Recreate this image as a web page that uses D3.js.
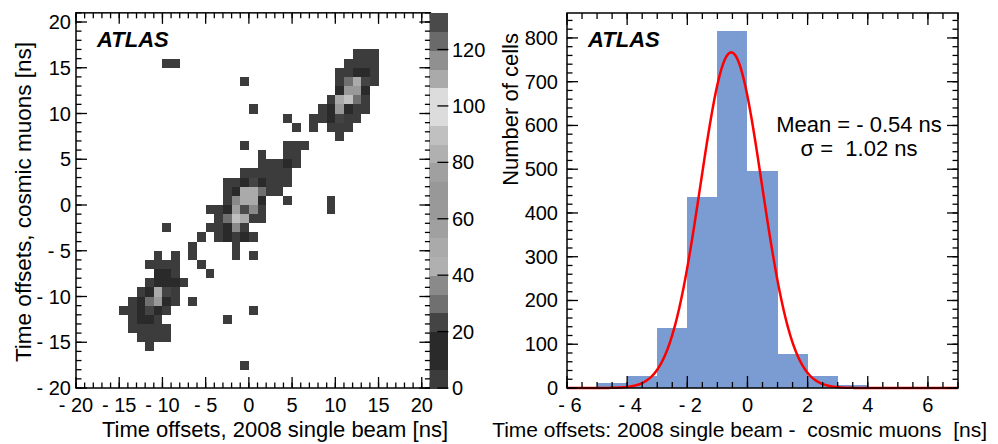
<!DOCTYPE html>
<html>
<head>
<meta charset="utf-8">
<script src="https://cdn.jsdelivr.net/npm/d3@7"></script>
<style>
  body { margin: 0; background: #fff; }
  text { font-family: "Liberation Sans", Arial, sans-serif; fill: #000; }
</style>
</head>
<body>
<svg width="998" height="444"></svg>
<script>
// ---------- data: 2D map (x bin low edge, y bin low edge, entries), 1 ns bins
const mapCells = [
  [-10, 15, 3], [-9, 15, 3],
  [12, 16, 3], [13, 16, 3], [14, 16, 3],
  [11, 15, 3], [12, 15, 3], [13, 15, 3], [14, 15, 3],
  [10, 14, 3], [11, 14, 3], [12, 14, 10], [13, 14, 10], [14, 14, 3],
  [-1, 13, 3], [10, 13, 3], [11, 13, 30], [12, 13, 50], [13, 13, 22], [14, 13, 3],
  [10, 12, 10], [11, 12, 62], [12, 12, 62], [13, 12, 10],
  [9, 11, 3], [10, 11, 50], [11, 11, 90], [12, 11, 30], [13, 11, 3],
  [0, 10, 3], [8, 10, 3], [9, 10, 10], [10, 10, 62], [11, 10, 10], [12, 10, 3], [13, 10, 3],
  [4, 9, 3], [7, 9, 3], [8, 9, 3], [9, 9, 10], [10, 9, 22], [11, 9, 3], [12, 9, 3],
  [5, 8, 3], [7, 8, 3], [9, 8, 3], [10, 8, 3], [11, 8, 3],
  [10, 7, 3],
  [-1, 6, 3], [4, 6, 3], [5, 6, 3], [6, 6, 3],
  [1, 5, 3], [4, 5, 3], [5, 5, 3],
  [1, 4, 3], [2, 4, 3], [3, 4, 3], [4, 4, 10], [5, 4, 3],
  [-1, 3, 3], [0, 3, 3], [1, 3, 3], [2, 3, 3], [3, 3, 3], [4, 3, 3],
  [-3, 2, 3], [-2, 2, 3], [-1, 2, 10], [0, 2, 22], [1, 2, 10], [2, 2, 3], [3, 2, 3], [4, 2, 3],
  [-3, 1, 3], [-2, 1, 10], [-1, 1, 50], [0, 1, 50], [1, 1, 30], [2, 1, 3], [3, 1, 3],
  [-3, 0, 3], [-2, 0, 37], [-1, 0, 50], [0, 0, 50], [1, 0, 10], [4, 0, 3], [9, 0, 3],
  [-5, -1, 3], [-4, -1, 3], [-3, -1, 10], [-2, -1, 56], [-1, -1, 130], [0, -1, 37], [1, -1, 3], [9, -1, 3],
  [-4, -2, 3], [-3, -2, 30], [-2, -2, 90], [-1, -2, 50], [0, -2, 3], [1, -2, 3],
  [-10, -3, 3], [-5, -3, 3], [-4, -3, 3], [-3, -3, 10], [-2, -3, 37], [-1, -3, 3],
  [-6, -4, 3], [-4, -4, 3], [-3, -4, 10], [-2, -4, 3], [-1, -4, 10], [0, -4, 3],
  [-7, -5, 3], [-2, -5, 3],
  [-11, -6, 3], [-9, -6, 3], [-7, -6, 3], [-2, -6, 3], [0, -6, 3],
  [-12, -7, 3], [-11, -7, 3], [-10, -7, 3], [-9, -7, 3], [-6, -7, 3],
  [-11, -8, 10], [-10, -8, 10], [-9, -8, 3], [-5, -8, 3],
  [-12, -9, 3], [-11, -9, 10], [-10, -9, 10], [-9, -9, 10], [-8, -9, 3],
  [-13, -10, 3], [-12, -10, 10], [-11, -10, 50], [-10, -10, 22], [-9, -10, 3],
  [-14, -11, 3], [-13, -11, 10], [-12, -11, 30], [-11, -11, 62], [-10, -11, 10], [-9, -11, 3], [-7, -11, 3],
  [-15, -12, 3], [-14, -12, 3], [-13, -12, 10], [-12, -12, 22], [-11, -12, 10], [-10, -12, 3], [0, -12, 3],
  [-14, -13, 3], [-13, -13, 10], [-12, -13, 10], [-11, -13, 3], [-3, -13, 3],
  [-14, -14, 3], [-13, -14, 3], [-12, -14, 3], [-11, -14, 3], [-10, -14, 3],
  [-13, -15, 3], [-12, -15, 3], [-11, -15, 3], [-10, -15, 3],
  [-12, -16, 3],
  [-1, -18, 3]
];
const mapDomain = [-20, 21];
const mapTicks = [-20, -15, -10, -5, 0, 5, 10, 15, 20];
const zMax = 133;
// colour palette, lowest level first (20 contour levels)
const paletteColors = [
  "#3c3c3c", "#2a2a2a", "#2a2a2a", "#444444", "#707070",
  "#8a8a8a", "#b0b0b0", "#aaaaaa", "#a0a0a0", "#999999",
  "#989898", "#a0a0a0", "#b0b0b0", "#c0c0c0", "#dcdcdc",
  "#dcdcdc", "#aaaaaa", "#909090", "#6a6a6a", "#4a4a4a"
];
const paletteTicks = [0, 20, 40, 60, 80, 100, 120];

// ---------- data: 1D histogram of differences
const histLow = [-6, -5, -4, -3, -2, -1, 0, 1, 2, 3, 4, 5, 6];
const histCounts = [0, 11, 28, 138, 436, 817, 495, 78, 27, 7, 3, 0, 0];
const histDomain = [-6, 7];
const histTicks = [-6, -4, -2, 0, 2, 4, 6];
const countMax = 857;
const countTicks = [0, 100, 200, 300, 400, 500, 600, 700, 800];
const fitMean = -0.54, fitSigma = 1.02, fitPeak = 767;

const svg = d3.select("svg");
const fmt = d => d < 0 ? "- " + (-d) : String(d);

// ROOT-like frame with ticks on all four sides
function drawTicks(g, scale, orient, pos, values, len) {
  values.forEach(v => {
    const p = scale(v);
    if (orient === "bottom") g.append("line").attr("x1", p).attr("x2", p).attr("y1", pos).attr("y2", pos - len);
    if (orient === "top") g.append("line").attr("x1", p).attr("x2", p).attr("y1", pos).attr("y2", pos + len);
    if (orient === "left") g.append("line").attr("y1", p).attr("y2", p).attr("x1", pos).attr("x2", pos + len);
    if (orient === "right") g.append("line").attr("y1", p).attr("y2", p).attr("x1", pos).attr("x2", pos - len);
  });
}

function minorValues(domain, step) {
  const out = [];
  for (let v = Math.ceil(domain[0] / step) * step; v <= domain[1] + 1e-9; v += step) out.push(+v.toFixed(6));
  return out;
}

// ================= left panel =================
const L = { x0: 76, x1: 430.4, y0: 12.85, y1: 388 };
const mx = d3.scaleLinear().domain(mapDomain).range([L.x0, L.x1]);
const my = d3.scaleLinear().domain(mapDomain).range([L.y1, L.y0]);
const level = v => Math.min(paletteColors.length - 1, Math.floor(v / zMax * paletteColors.length));

svg.append("g")
  .selectAll("rect")
  .data(mapCells)
  .join("rect")
  .attr("x", d => mx(d[0]))
  .attr("y", d => my(d[1] + 1))
  .attr("width", d => mx(d[0] + 1) - mx(d[0]))
  .attr("height", d => my(d[1]) - my(d[1] + 1))
  .attr("fill", d => paletteColors[level(d[2])])
  .attr("shape-rendering", "crispEdges");

const lt = svg.append("g").attr("stroke", "#000").attr("stroke-width", 1.3);
drawTicks(lt, mx, "bottom", L.y1, mapTicks, 11);
drawTicks(lt, mx, "bottom", L.y1, minorValues(mapDomain, 1), 5.5);
drawTicks(lt, mx, "top", L.y0, mapTicks, 11);
drawTicks(lt, mx, "top", L.y0, minorValues(mapDomain, 1), 5.5);
drawTicks(lt, my, "left", L.x0, mapTicks, 11);
drawTicks(lt, my, "left", L.x0, minorValues(mapDomain, 1), 5.5);
drawTicks(lt, my, "right", L.x1, mapTicks, 11);
drawTicks(lt, my, "right", L.x1, minorValues(mapDomain, 1), 5.5);
svg.append("rect")
  .attr("x", L.x0).attr("y", L.y0)
  .attr("width", L.x1 - L.x0).attr("height", L.y1 - L.y0)
  .attr("fill", "none").attr("stroke", "#000").attr("stroke-width", 1.5);

svg.append("g").selectAll("text")
  .data(mapTicks)
  .join("text")
  .attr("x", d => mx(d))
  .attr("y", 412)
  .attr("text-anchor", "middle")
  .attr("font-size", 20)
  .text(fmt);

svg.append("g").selectAll("text")
  .data(mapTicks)
  .join("text")
  .attr("x", 71)
  .attr("y", d => my(d))
  .attr("dy", "0.35em")
  .attr("text-anchor", "end")
  .attr("font-size", 20)
  .text(fmt);

svg.append("text")
  .attr("x", 448).attr("y", 437)
  .attr("text-anchor", "end")
  .attr("font-size", 22)
  .text("Time offsets, 2008 single beam [ns]");

svg.append("text")
  .attr("transform", "translate(31,202) rotate(-90)")
  .attr("text-anchor", "middle")
  .attr("font-size", 22.5)
  .text("Time offsets, cosmic muons [ns]");

svg.append("text")
  .attr("x", 97).attr("y", 47)
  .attr("font-size", 22)
  .attr("font-weight", "bold")
  .attr("font-style", "italic")
  .text("ATLAS");

// colour bar
const zScale = d3.scaleLinear().domain([0, zMax]).range([388, 12.85]);
const zStep = zMax / paletteColors.length;
svg.append("g").selectAll("rect")
  .data(paletteColors)
  .join("rect")
  .attr("x", 430.4)
  .attr("width", 18)
  .attr("y", (c, i) => zScale((i + 1) * zStep))
  .attr("height", (c, i) => zScale(i * zStep) - zScale((i + 1) * zStep) + 0.5)
  .attr("fill", c => c)
  .attr("shape-rendering", "crispEdges");

const zt = svg.append("g").attr("stroke", "#000").attr("stroke-width", 1.3);
drawTicks(zt, zScale, "right", 448.4, paletteTicks, 11);

svg.append("g").selectAll("text")
  .data(paletteTicks)
  .join("text")
  .attr("x", 452)
  .attr("y", d => zScale(d))
  .attr("dy", "0.35em")
  .attr("font-size", 20)
  .text(d => d);

// ================= right panel =================
const R = { x0: 567, x1: 958, y0: 13, y1: 388 };
const hx = d3.scaleLinear().domain(histDomain).range([R.x0, R.x1]);
const hy = d3.scaleLinear().domain([0, countMax]).range([R.y1, R.y0]);

svg.append("g")
  .selectAll("rect")
  .data(histLow.map((lo, i) => ({ lo, n: histCounts[i] })))
  .join("rect")
  .attr("x", d => hx(d.lo))
  .attr("width", d => hx(d.lo + 1) - hx(d.lo))
  .attr("y", d => hy(d.n))
  .attr("height", d => hy(0) - hy(d.n))
  .attr("fill", "#7b9bd3")
  .attr("shape-rendering", "crispEdges");

const gauss = t => fitPeak * Math.exp(-0.5 * ((t - fitMean) / fitSigma) ** 2);
svg.append("path")
  .datum(d3.range(histDomain[0], histDomain[1] + 0.001, 0.02))
  .attr("d", d3.line().x(t => hx(t)).y(t => hy(gauss(t))))
  .attr("fill", "none")
  .attr("stroke", "#ff0000")
  .attr("stroke-width", 2.5);

const rt = svg.append("g").attr("stroke", "#000").attr("stroke-width", 1.3);
drawTicks(rt, hx, "bottom", R.y1, histTicks, 12);
drawTicks(rt, hx, "bottom", R.y1, minorValues(histDomain, 0.5), 6);
drawTicks(rt, hx, "top", R.y0, histTicks, 12);
drawTicks(rt, hx, "top", R.y0, minorValues(histDomain, 0.5), 6);
drawTicks(rt, hy, "left", R.x0, countTicks, 11);
drawTicks(rt, hy, "left", R.x0, minorValues([0, countMax], 20), 5.5);
drawTicks(rt, hy, "right", R.x1, countTicks, 11);
drawTicks(rt, hy, "right", R.x1, minorValues([0, countMax], 20), 5.5);
svg.append("rect")
  .attr("x", R.x0).attr("y", R.y0)
  .attr("width", R.x1 - R.x0).attr("height", R.y1 - R.y0)
  .attr("fill", "none").attr("stroke", "#000").attr("stroke-width", 1.5);

// negative labels sit a little right of their tick, as in the original
svg.append("g").selectAll("text")
  .data(histTicks)
  .join("text")
  .attr("x", d => hx(d) + (d < 0 ? 3 : 0))
  .attr("y", 412)
  .attr("text-anchor", "middle")
  .attr("font-size", 20)
  .text(fmt);

svg.append("g").selectAll("text")
  .data(countTicks)
  .join("text")
  .attr("x", 558)
  .attr("y", d => hy(d))
  .attr("dy", "0.35em")
  .attr("text-anchor", "end")
  .attr("font-size", 20)
  .text(d => d);

svg.append("text")
  .attr("x", 987).attr("y", 437)
  .attr("text-anchor", "end")
  .attr("font-size", 21)
  .style("white-space", "pre")
  .text("Time offsets: 2008 single beam -  cosmic muons  [ns]");

svg.append("text")
  .attr("transform", "translate(518,33) rotate(-90)")
  .attr("text-anchor", "end")
  .attr("font-size", 22)
  .text("Number of cells");

svg.append("text")
  .attr("x", 588).attr("y", 47)
  .attr("font-size", 22)
  .attr("font-weight", "bold")
  .attr("font-style", "italic")
  .text("ATLAS");

svg.append("text")
  .attr("x", 859).attr("y", 132)
  .attr("text-anchor", "middle")
  .attr("font-size", 22)
  .style("white-space", "pre")
  .text("Mean = - 0.54 ns");

svg.append("text")
  .attr("x", 859).attr("y", 156)
  .attr("text-anchor", "middle")
  .attr("font-size", 22)
  .style("white-space", "pre")
  .text("σ =  1.02 ns");
</script>
</body>
</html>
